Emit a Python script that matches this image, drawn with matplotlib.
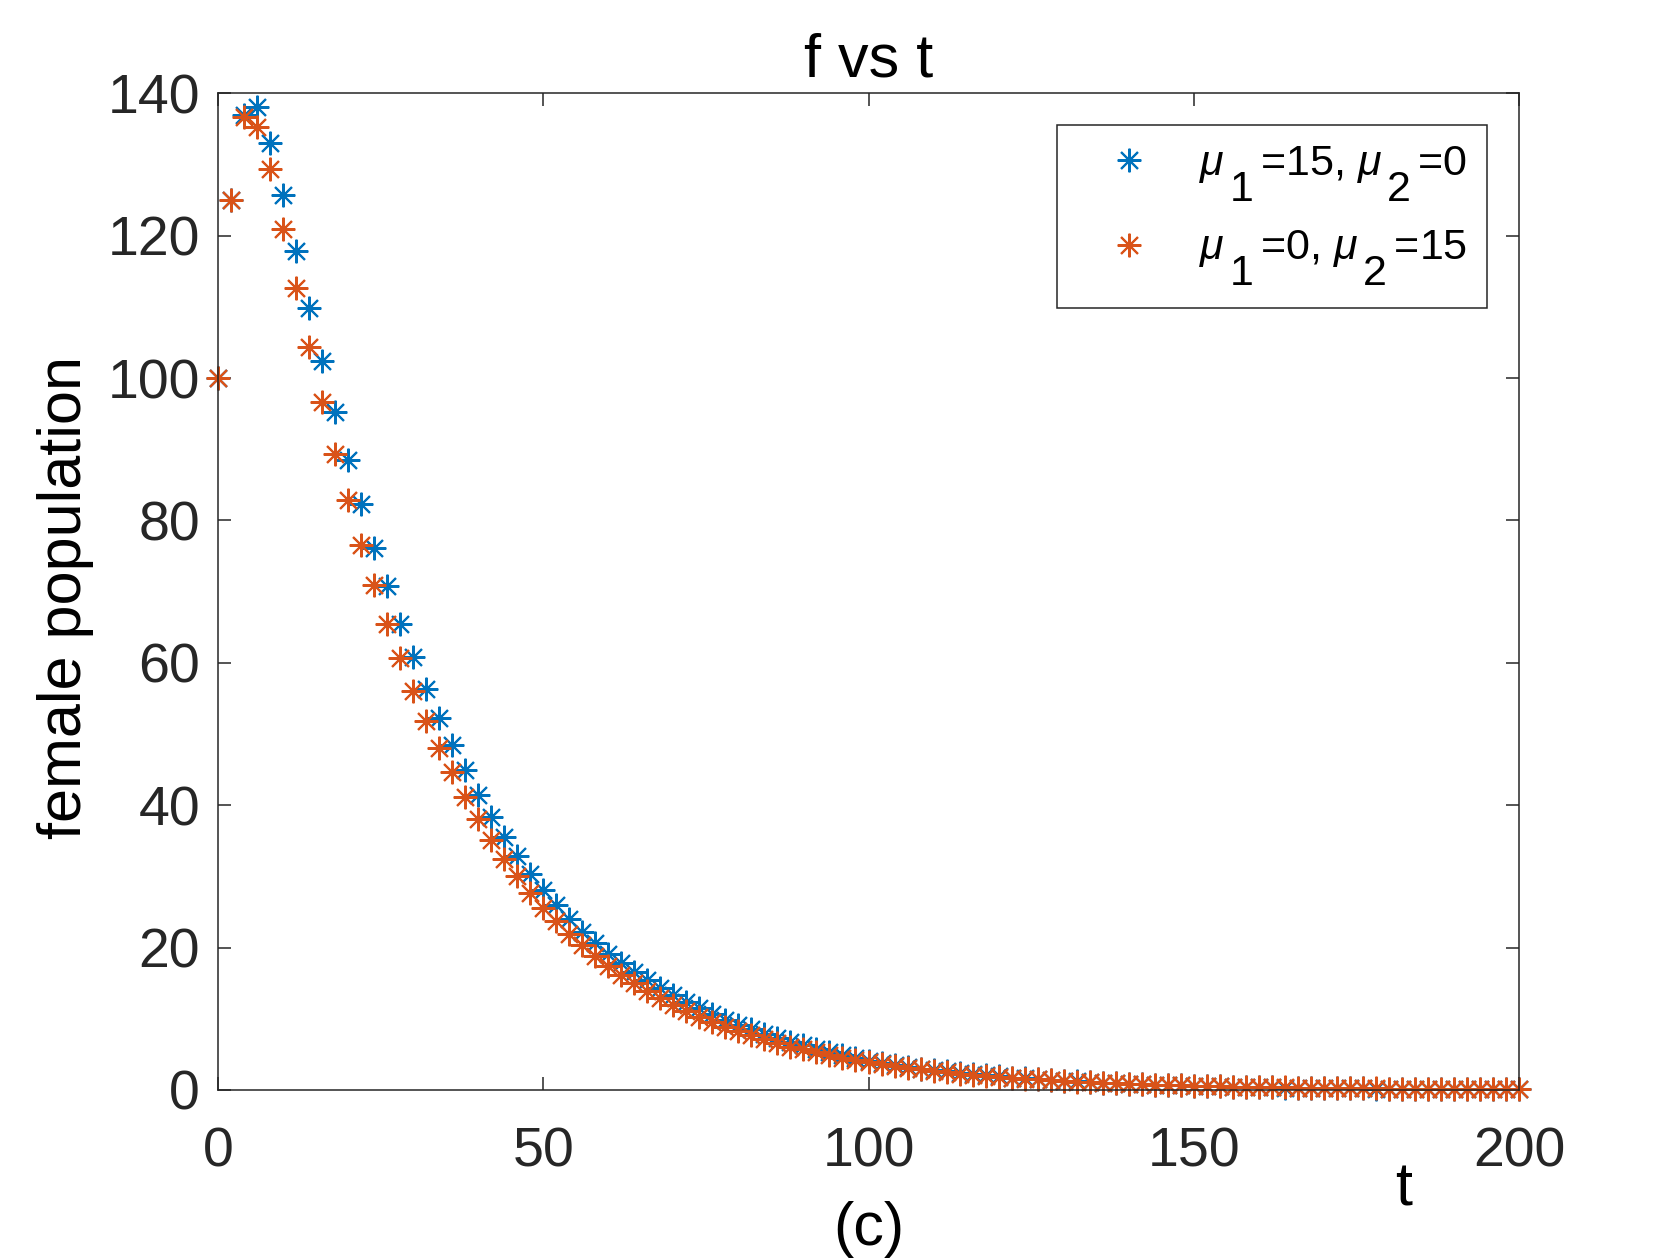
"""f vs t: female population under two mu settings (MATLAB-style scatter of '*')."""

import matplotlib
matplotlib.use("Agg")
import matplotlib.pyplot as plt
from matplotlib import _mathtext

BLUE = "#0072BD"
ORANGE = "#D95319"
INK = "#262626"

# time grid, every 2 units
t = list(range(0, 201, 2))

# mu1=15, mu2=0
f_mu1 = [
    100.0, 125.0, 136.9, 138.1, 133.0, 125.7, 117.9, 109.9, 102.4, 95.3,
    88.5, 82.3, 76.2, 70.8, 65.5, 60.8, 56.3, 52.2, 48.5, 44.9,
    41.4, 38.4, 35.5, 32.8, 30.4, 28.1,
    26.0, 24.0, 22.2, 20.6, 19.1, 17.8, 16.6, 15.4, 14.3, 13.3,
    12.4, 11.5, 10.7, 9.9, 9.2, 8.5, 7.9, 7.3, 6.8, 6.3,
    5.8, 5.3, 4.9, 4.5, 4.1,
    3.8, 3.5, 3.25, 3.0, 2.8, 2.6, 2.4, 2.2, 2.05, 1.9,
    1.75, 1.62, 1.5, 1.39, 1.29, 1.2, 1.11, 1.03, 0.95, 0.88,
    0.82, 0.76, 0.7, 0.65, 0.6,
    0.56, 0.52, 0.48, 0.44, 0.41, 0.38, 0.35, 0.33, 0.3, 0.28,
    0.26, 0.24, 0.22, 0.21, 0.19, 0.18, 0.17, 0.15, 0.14, 0.13,
    0.12, 0.11, 0.1, 0.1, 0.09,
]

# mu1=0, mu2=15
f_mu2 = [
    100.0, 125.0, 136.7, 135.3, 129.3, 120.9, 112.6, 104.3, 96.6, 89.4,
    82.9, 76.6, 70.9, 65.5, 60.7, 56.0, 51.8, 48.0, 44.6, 41.1,
    38.1, 35.1, 32.4, 30.0, 27.7, 25.6,
    23.7, 21.9, 20.3, 18.8, 17.4, 16.2, 15.0, 13.9, 12.9, 12.0,
    11.1, 10.3, 9.6, 8.9, 8.3, 7.7, 7.1, 6.6, 6.1, 5.7,
    5.3, 4.9, 4.5, 4.2, 3.9,
    3.6, 3.35, 3.1, 2.9, 2.7, 2.5, 2.3, 2.15, 2.0, 1.85,
    1.72, 1.6, 1.48, 1.38, 1.28, 1.19, 1.1, 1.02, 0.95, 0.88,
    0.82, 0.76, 0.71, 0.66, 0.61,
    0.57, 0.53, 0.49, 0.46, 0.43, 0.4, 0.37, 0.34, 0.32, 0.3,
    0.28, 0.26, 0.24, 0.22, 0.21, 0.19, 0.18, 0.17, 0.16, 0.15,
    0.14, 0.13, 0.12, 0.11, 0.1,
]

labels = [r"$\mu_{\,1\,}$=15, $\mu_{\,2\,}$=0",
          r"$\mu_{\,1\,}$=0, $\mu_{\,2\,}$=15"]
xticks = [0, 50, 100, 150, 200]
yticks = [0, 20, 40, 60, 80, 100, 120, 140]

plt.rcParams["font.family"] = ["Liberation Sans", "DejaVu Sans"]
plt.rcParams["mathtext.fontset"] = "custom"
plt.rcParams["mathtext.rm"] = "Liberation Sans"
plt.rcParams["mathtext.it"] = "Liberation Sans:italic"
# MATLAB tex subscripts are full size and dropped well below the baseline
_mathtext.SHRINK_FACTOR = 1.0
_mathtext.FontConstantsBase.sub1 = 1.15

W, H = 1680, 1260
fig = plt.figure(figsize=(W / 100, H / 100), dpi=100)
ax = fig.add_axes([218 / W, 1 - 1090 / H, 1301 / W, 996.7 / H])

asterisk = (8, 2, 0)  # plus + cross, like MATLAB '*'
for y, c, lab in [(f_mu1, BLUE, labels[0]), (f_mu2, ORANGE, labels[1])]:
    ax.plot(t, y, ls="none", marker=asterisk, ms=17, mew=1.5,
            mec=c, mfc=c, label=lab, clip_on=False)

ax.set_xlim(0, 200)
ax.set_ylim(0, 140)
ax.set_xticks(xticks)
ax.set_yticks(yticks)
ax.tick_params(direction="in", length=9.5, width=1.1, colors=INK,
               labelsize=40, top=True, right=True)
ax.tick_params(axis="x", pad=26)
ax.tick_params(axis="y", pad=13)
for s in ax.spines.values():
    s.set_color(INK)
    s.set_linewidth(1.1)

ax.set_title("f vs t", fontsize=44, pad=12)
ax.set_ylabel("female population", fontsize=44, va="center")
ax.yaxis.set_label_coords(-0.117, 0.494)
ax.set_xlabel("(c)", fontsize=44, va="center")
ax.xaxis.set_label_coords(0.5, -0.1395)
ax.text(0.9116, -0.1003, "t", transform=ax.transAxes, fontsize=44,
        ha="center", va="center")

leg = ax.legend(loc="upper right", bbox_to_anchor=(1487 / W, 1 - 125 / H),
                bbox_transform=fig.transFigure, borderaxespad=0,
                fontsize=31, fancybox=False, edgecolor=INK, framealpha=1,
                handlelength=2.45, handletextpad=0.4, labelspacing=0.58,
                borderpad=0.45, markerscale=1.0)
leg.get_frame().set_linewidth(1.1)

fig.savefig("out.png", dpi=100)
